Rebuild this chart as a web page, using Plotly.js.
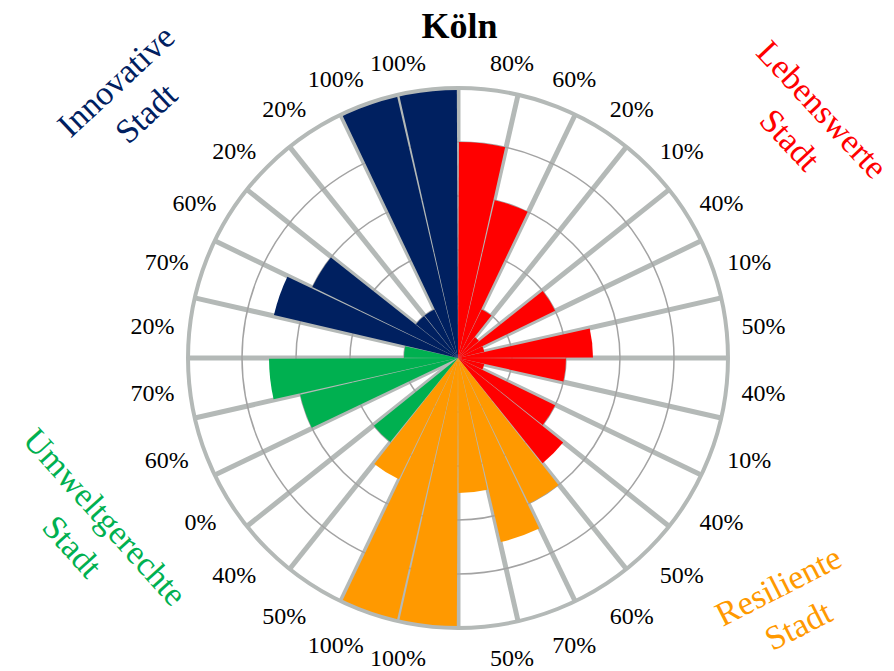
<!DOCTYPE html>
<html>
<head>
<meta charset="utf-8">
<script src="https://cdn.plot.ly/plotly-3.0.1.min.js"></script>
<style>html,body{margin:0;padding:0;background:#fff;}#chart{width:894px;height:671px;}</style>
</head>
<body>
<div id="chart"></div>
<script>
// Values (%) per sector, clockwise from the top
const lebenswerteValues = [80, 60, 20, 10, 40, 10, 50, 40, 10, 40, 50];
const resilienteValues  = [60, 70, 50, 100, 100, 50];
const umweltValues      = [40, 0, 60, 70, 20];
const innovativeValues  = [70, 60, 20, 20, 100, 100];

const groupNames  = ['Lebenswerte<br>Stadt', 'Resiliente<br>Stadt', 'Umweltgerechte<br>Stadt', 'Innovative<br>Stadt'];
const groupColors = ['#FF0000', '#FF9900', '#00B050', '#002060'];
const groupValues = [lebenswerteValues, resilienteValues, umweltValues, innovativeValues];
const chartTitle = 'Köln';

const allValues = [].concat(...groupValues);
const n = allValues.length;
const step = 360 / n;
const centers = allValues.map((_, i) => i * step + step / 2);
const bounds = allValues.map((_, i) => i * step);

const traces = [];
let offset = 0;
groupValues.forEach((vals, g) => {
  traces.push({
    type: 'barpolar',
    subplot: 'polar',
    r: vals,
    theta: vals.map((_, i) => centers[offset + i]),
    width: vals.map(() => step - 0.5),
    marker: {color: groupColors[g], line: {width: 0}},
    name: groupNames[g],
    hoverinfo: 'r+theta'
  });
  offset += vals.length;
});
// label subplot carrier
traces.push({type: 'scatterpolar', subplot: 'polar2', r: [], theta: [], mode: 'markers', showlegend: false});

const dom = {x: [0.2103, 0.8143], y: [0.0641, 0.8689]};
const serif = 'Liberation Serif, Times New Roman, serif';

const layout = {
  width: 894, height: 671,
  margin: {l: 0, r: 0, t: 0, b: 0},
  paper_bgcolor: '#fff',
  showlegend: false,
  title: {text: '<b>' + chartTitle + '</b>', font: {family: serif, size: 36, color: '#000'},
          x: 0.514, xanchor: 'center', y: 1 - 25 / 671, yanchor: 'middle'},
  polar: {
    domain: dom,
    bgcolor: '#fff',
    angularaxis: {
      rotation: 90, direction: 'clockwise', thetaunit: 'degrees',
      tickmode: 'array', tickvals: bounds, showticklabels: false, ticks: '',
      showgrid: true, gridcolor: '#B4B9B7', gridwidth: 5,
      showline: true, linecolor: '#B4B9B7', linewidth: 4
    },
    radialaxis: {
      range: [0, 100], tickvals: [20, 40, 60, 80], showticklabels: false, ticks: '',
      showline: false, showgrid: true, gridcolor: '#A3A3A3', gridwidth: 1.5
    }
  },
  polar2: {
    domain: dom,
    bgcolor: 'rgba(0,0,0,0)',
    angularaxis: {
      rotation: 90, direction: 'clockwise', thetaunit: 'degrees',
      tickmode: 'array', tickvals: centers, ticktext: allValues.map(v => v + '%'),
      showticklabels: true, ticks: 'outside', ticklen: 10, tickcolor: 'rgba(0,0,0,0)',
      tickfont: {family: serif, size: 24, color: '#000'},
      showgrid: false, showline: false
    },
    radialaxis: {visible: false, range: [0, 100]}
  },
  annotations: [
    {text: groupNames[3], x: 130 / 894, y: 1 - 97 / 671, textangle: -43, font: {color: groupColors[3]}},
    {text: groupNames[0], x: 806 / 894, y: 1 - 125 / 671, textangle: 47, font: {color: groupColors[0]}},
    {text: groupNames[2], x: 89 / 894, y: 1 - 531 / 671, textangle: 48, font: {color: groupColors[2]}},
    {text: groupNames[1], x: 788 / 894, y: 1 - 605 / 671, textangle: -27, font: {color: groupColors[1]}}
  ].map(a => Object.assign({xref: 'paper', yref: 'paper', showarrow: false, xanchor: 'center', yanchor: 'middle', align: 'center'}, a,
        {font: {family: serif, size: 34, color: a.font.color}}))
};

Plotly.newPlot('chart', traces, layout, {displayModeBar: false, staticPlot: true});
</script>
</body>
</html>
